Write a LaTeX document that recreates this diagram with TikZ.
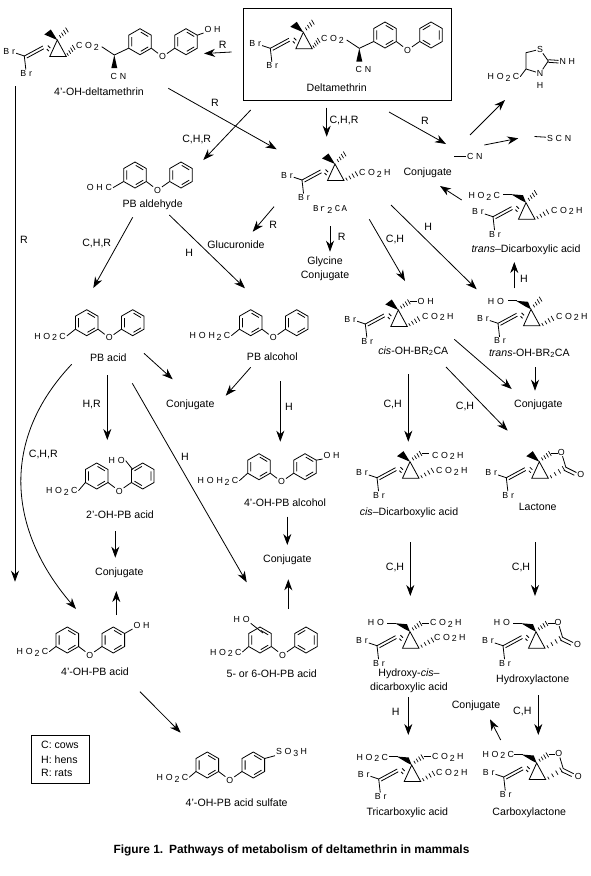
\documentclass[tikz,border=0pt]{standalone}
\usepackage{fontspec}
\usetikzlibrary{arrows.meta,calc}
\setmainfont{Liberation Sans}
\newfontfamily\chemfont[LetterSpace=32]{Liberation Sans}
\newfontfamily\acidfont[LetterSpace=15]{Liberation Mono}
\newcommand{\subtwo}[1]{\kern1.8pt\raisebox{-1.8pt}{#1}\kern2.4pt}
\newcommand{\hashbond}[4]{%
  \foreach \hashpos in {0.05,0.35,0.65,0.95}{
    \pgfmathsetmacro{\hashx}{#1+\hashpos*(#3-#1)}
    \pgfmathsetmacro{\hashy}{#2+\hashpos*(#4-#2)}
    \pgfmathsetmacro{\hashlen}{1.5+1.3*\hashpos}
    \draw[line width=0.7pt] ({\hashx-0.5*\hashlen},{\hashy-0.87*\hashlen}) -- ({\hashx+0.5*\hashlen},{\hashy+0.87*\hashlen});
  }%
}
\tikzset{
  atom/.style={font=\fontsize{8.8}{10}\chemfont,inner sep=0pt,outer sep=1pt,text height=6pt,text depth=0pt},
  cmpd/.style={font=\fontsize{10.6}{13.5}\selectfont,inner sep=0pt,align=center},
  pathway/.style={-{Stealth[length=11pt,width=8pt,inset=3.5pt]}},
  pics/benzene/.style={code={
    \draw (0,-13) -- (11.3,-6.5) -- (11.3,6.5) -- (0,13) -- (-11.3,6.5) -- (-11.3,-6.5) -- cycle;
    \draw[xscale=#1] (-8.2,-4.6) -- (-8.2,4.6) (0.8,-9.6) -- (8.2,-5.2) (0.8,9.6) -- (8.2,5.2);
  }},
  pics/benzene/.default=1,
  pics/phenoxy/.style={code={
    \pic at (0,0) {benzene};
    \pic at (46,0) {benzene=#1};
    \node[atom] (-o) at (22.5,15) {O};
    \draw (11.3,6.5) -- (-o);
    \draw (-o) -- (34.7,6.5);
  }},
  pics/phenoxy/.default=1,
  pics/cyanoester/.style={code={
    \draw (-38.3,5) -- (-25.7,13.3) -- (-11.3,6.5);
    \fill (-25.7,13.3) -- (-22.7,26.5) -- (-28.7,26.5) -- cycle;
    \node[atom] (-cn) at (-21.5,34.5) {CN};
  }},
  pics/cyclopropyl/.style={code={
    \draw (0,0) -- (-7.5,16.5) -- (9,16.5) -- cycle;
    \begin{scope}[shift={(0,#1)}]
      \draw (-33,14) -- (-14.5,4) (-30.5,16) -- (-13.5,6.8);
      \draw (-10.5,7) -- (-8.5,9) (-9.5,3.5) -- (-7,6);
      \node[atom] (-brl) at (-48,9) {Br};
      \node[atom] (-brd) at (-31,31.5) {Br};
      \draw (-brl) -- (-33,14) -- (-brd);
    \end{scope}
  }},
  pics/cyclopropyl/.default=0,
  pics/methylwedge/.style={code={
    \fill (0,0) -- (-13,-5.5) -- (-6.5,-10.5) -- cycle;
  }},
  pics/subwedge/.style={code={
    \draw (-23,-8.5) -- (-14,-8.5);
    \fill (-15,-8.5) -- (-3,-7.5) -- (0,0) -- (-5,-2.5) -- cycle;
  }},
  pics/methylhash/.style={code={
    \hashbond{2.5}{-3}{10}{-10.5}
  }},
  pics/subhash/.style={code={
    \hashbond{2.5}{-2.5}{11}{-8.5}
    \draw (12,-8.5) -- (19,-8.5);
  }},
  pics/lactone/.style={code={
    \hashbond{11}{15.5}{25}{6.5}
    \node[atom] (-oa) at (22,-9.5) {O};
    \node[atom] (-ob) at (41.5,13) {O};
    \draw (-oa) -- (26.5,5.5) -- (-ob);
    \draw (24.5,8.5) -- (35,13.5);
    \draw (12,-8.5) -- (18.5,-8.5);
    \hashbond{2.5}{-2.5}{11}{-8.5}
  }},
}
\begin{document}
\begin{tikzpicture}[x=1pt,y=-1pt,line width=0.8pt]
  \useasboundingbox (0,0) rectangle (590,876);

  \draw (243.3,8.3) rectangle (451.7,100);

  % Deltamethrin
  \pic (dm) at (303.3,32.3) {cyclopropyl=2};
  \pic at (303.3,32.3) {methylwedge};
  \pic at (303.3,32.3) {methylhash};
  \hashbond{313.3}{47}{319}{40}
  \node[atom,anchor=west] (dmco) at (320,38.5) {CO\subtwo{2}};
  \pic (dmr) at (385,35) {phenoxy=-1};
  \pic (dmc) at (385,35) {cyanoester};
  \node[cmpd] (dmname) at (336.7,88) {Deltamethrin};

  % 4'-OH-deltamethrin
  \pic (ohdm) at (57.3,40) {cyclopropyl=2};
  \pic at (57.3,40) {methylwedge};
  \pic at (57.3,40) {methylhash};
  \hashbond{67.3}{54.7}{74}{47}
  \node[atom,anchor=west] (ohdmco) at (75,45.5) {CO\subtwo{2}};
  \pic (ohdmr) at (140,41.7) {phenoxy};
  \pic (ohdmc) at (140,41.7) {cyanoester};
  \node[atom,anchor=west] (ohdmoh) at (203.5,29) {OH};
  \draw (197.3,35.2) -- (ohdmoh.south west);
  \node[cmpd] (ohdmname) at (99,92) {4'-OH-deltamethrin};

  % Br2CA
  \pic (bc) at (335,164) {cyclopropyl=2};
  \pic at (335,164) {methylwedge};
  \pic at (335,164) {methylhash};
  \hashbond{346}{179.5}{357}{173.5}
  \node[atom,anchor=west] (bcco) at (358,172.5) {CO\subtwo{2}H};
  \node[font=\fontsize{9}{10}\acidfont,inner sep=0pt] (bcname) at (330,209.3) {Br\subtwo{2}CA};

  % thiazolidine and cyanide side
  \node[atom] (ths) at (540,49.3) {S};
  \node[atom] (thn) at (540,73.3) {N};
  \node[atom] (thh) at (540,85) {H};
  \node[atom,anchor=west] (thnh) at (558.5,61.7) {NH};
  \coordinate (thc) at (548.3,61);
  \coordinate (thd) at (526,52.7);
  \coordinate (the) at (526,69);
  \draw (the) -- (thd) -- (ths) -- (thc) -- (thn) -- (the);
  \draw ($(thc)+(0,-1.3)$) -- ($(thnh.west)+(0,-1.3)$) ($(thc)+(0,1.3)$) -- ($(thnh.west)+(0,1.3)$);
  \node[atom,anchor=west] (thco) at (486.7,76.7) {HO\subtwo{2}C};
  \draw (thco.east) -- (the);
  \node[atom,anchor=west] (cnb) at (466,156) {CN};
  \coordinate (cna) at (454,156);
  \draw (cna) -- (cnb);
  \node[atom,anchor=west] (scnb) at (546,138) {SCN};
  \coordinate (scna) at (534.5,136.5);
  \draw (scna) -- (scnb);
  \node[cmpd] (conja) at (427.7,173) {Conjugate};

  % trans-dicarboxylic acid
  \pic (td) at (526,202.7) {cyclopropyl};
  \pic at (526,202.7) {subwedge};
  \pic at (526,202.7) {methylhash};
  \hashbond{537}{218}{548}{211.5}
  \node[atom,anchor=east] (tdco) at (501,195.7) {HO\subtwo{2}C};
  \node[atom,anchor=west] (tdcob) at (550,210) {CO\subtwo{2}H};
  \node[cmpd] (tdname) at (526,249.3) {\textit{trans}--Dicarboxylic acid};

  % cis- and trans-OH-Br2CA
  \pic (co) at (398.3,310) {cyclopropyl};
  \pic at (398.3,310) {methylwedge};
  \pic at (398.3,310) {subhash};
  \hashbond{409}{325}{419}{318.5}
  \node[atom,anchor=west] (cooh) at (416.7,301.5) {OH};
  \node[atom,anchor=west] (coco) at (421,316) {CO\subtwo{2}H};
  \node[cmpd] (coname) at (413.3,351) {\textit{cis}-OH-BR\textsubscript{2}CA};
  \pic (to) at (531,309.3) {cyclopropyl};
  \pic at (531,309.3) {subwedge};
  \pic at (531,309.3) {methylhash};
  \hashbond{542}{324.8}{553}{318}
  \node[atom,anchor=east] (tooh) at (505,301.5) {HO};
  \node[atom,anchor=west] (toco) at (555,316) {CO\subtwo{2}H};
  \node[cmpd] (toname) at (529.3,353.3) {\textit{trans}-OH-BR\textsubscript{2}CA};
  \node[cmpd] (conjb) at (538.3,404.3) {Conjugate};

  % cis-dicarboxylic acid and lactone
  \pic (cd) at (410,461.7) {cyclopropyl=2};
  \pic at (410,461.7) {methylwedge};
  \pic at (410,461.7) {subhash};
  \hashbond{421}{477}{433}{470}
  \node[atom,anchor=west] (cdco) at (431,455) {CO\subtwo{2}H};
  \node[atom,anchor=west] (cdcob) at (435,470.7) {CO\subtwo{2}H};
  \node[cmpd] (cdname) at (409,512.3) {\textit{cis}--Dicarboxylic acid};
  \pic (la) at (539.3,461.7) {cyclopropyl=2};
  \pic at (539.3,461.7) {methylwedge};
  \pic (lab) at (539.3,461.7) {lactone};
  \node[cmpd] (laname) at (537.7,507.3) {Lactone};

  % hydroxy compounds
  \pic (hc) at (410,631.7) {cyclopropyl};
  \pic at (410,631.7) {subwedge};
  \pic at (410,631.7) {subhash};
  \hashbond{421}{646.5}{433}{639.5}
  \node[atom,anchor=east] (hcoh) at (385,622.7) {HO};
  \node[atom,anchor=west] (hcco) at (429,622.7) {CO\subtwo{2}H};
  \node[atom,anchor=west] (hccob) at (433,637) {CO\subtwo{2}H};
  \node[cmpd] (hcname) at (409,680.5) {Hydroxy-\textit{cis}--\\dicarboxylic acid};
  \pic (hl) at (536,631.7) {cyclopropyl};
  \pic at (536,631.7) {subwedge};
  \pic (hlb) at (536,631.7) {lactone};
  \node[atom,anchor=east] (hloh) at (511,622.7) {HO};
  \node[cmpd] (hlname) at (532.7,680) {Hydroxylactone};

  % tricarboxylic acid and carboxylactone
  \pic (tc) at (411.7,765) {cyclopropyl};
  \pic at (411.7,765) {subwedge};
  \pic at (411.7,765) {subhash};
  \hashbond{422.7}{780}{434}{773}
  \node[atom,anchor=east] (tcco) at (389,757) {HO\subtwo{2}C};
  \node[atom,anchor=west] (tccoa) at (431,756.5) {CO\subtwo{2}H};
  \node[atom,anchor=west] (tccob) at (435,772) {CO\subtwo{2}H};
  \node[cmpd] (tcname) at (407.3,812.3) {Tricarboxylic acid};
  \pic (cl) at (536.7,763) {cyclopropyl};
  \pic at (536.7,763) {subwedge};
  \pic (clb) at (536.7,763) {lactone};
  \node[atom,anchor=east] (clco) at (515,754) {HO\subtwo{2}C};
  \node[cmpd] (clname) at (529.3,812.3) {Carboxylactone};
  \node[cmpd] (conjc) at (476,706) {Conjugate};

  % phenoxy compounds
  \pic (al) at (135,175) {phenoxy};
  \node[atom,anchor=east] (alco) at (113,187.7) {OHC};
  \draw (alco.east) -- (123.7,181.5);
  \node[cmpd] (alname) at (152.7,205) {PB aldehyde};

  \pic (ac) at (86.7,322.7) {phenoxy};
  \node[atom,anchor=west] (acco) at (33.3,336) {HO\subtwo{2}C};
  \draw (acco.east) -- (75.4,329.2);
  \node[cmpd] (acname) at (108.3,357.3) {PB acid};

  \pic (ol) at (250.7,322.7) {phenoxy};
  \node[atom,anchor=west] (olco) at (188.7,335.7) {HOH\subtwo{2}C};
  \draw (olco.east) -- (239.4,329.2);
  \node[cmpd] (olname) at (272.3,356.3) {PB alcohol};
  \node[cmpd] (conjd) at (190.3,405) {Conjugate};

  \pic (oh) at (259,466.7) {phenoxy};
  \node[atom,anchor=west] (ohco) at (196.7,480.7) {HOH\subtwo{2}C};
  \draw (ohco.east) -- (247.7,473.2);
  \node[atom,anchor=west] (ohoh) at (322.5,455) {OH};
  \draw (316.3,460.2) -- (ohoh.south west);
  \node[cmpd] (ohname) at (285,502.3) {4'-OH-PB alcohol};

  \pic (ho) at (96.7,476) {phenoxy=-1};
  \node[atom,anchor=west] (hoco) at (45,490.7) {HO\subtwo{2}C};
  \draw (hoco.east) -- (85.4,482.5);
  \node[atom] (hooh) at (116.7,460.7) {HO};
  \draw (hooh.east) -- (132.7,469.5);
  \node[cmpd] (honame) at (120,514.3) {2'-OH-PB acid};
  \node[cmpd] (conje) at (119.3,572.3) {Conjugate};
  \node[cmpd] (conjf) at (287.3,559.3) {Conjugate};

  \pic (pa) at (67.3,640) {phenoxy};
  \node[atom,anchor=west] (paco) at (15.7,651.7) {HO\subtwo{2}C};
  \draw (paco.east) -- (56,646.5);
  \node[atom,anchor=west] (paoh) at (132.5,625) {OH};
  \draw (124.6,633.5) -- (paoh.south west);
  \node[cmpd] (paname) at (95,671.3) {4'-OH-PB acid};

  \pic (fs) at (260,640) {phenoxy=-1};
  \node[atom,anchor=west] (fsco) at (209,652) {HO\subtwo{2}C};
  \draw (fsco.east) -- (248.7,646.5);
  \node[atom] (fsoh) at (241.7,619.3) {HO};
  \draw (fsoh.south east) -- (263,633);
  \node[cmpd] (fsname) at (271.7,674) {5- or 6-OH-PB acid};

  \pic (su) at (207.3,765) {phenoxy};
  \node[atom,anchor=west] (suco) at (155.7,777.3) {HO\subtwo{2}C};
  \draw (suco.east) -- (196,771.5);
  \node[atom,anchor=west] (suso) at (275,751.7) {SO\subtwo{3}H};
  \draw (264.6,758.5) -- (suso.south west);
  \node[cmpd] (suname) at (236.7,803) {4'-OH-PB acid sulfate};

  % glucuronide and glycine
  \node[cmpd] (glu) at (236,244.3) {Glucuronide};
  \node[cmpd] (gly) at (325,269) {Glycine\\Conjugate};

  % pathways
  \coordinate (da) at (231.7,52);
  \coordinate (db) at (204,53.5);
  \draw[pathway] (da) -- (db);
  \node[cmpd] (dl) at (222.7,45) {R};
  \coordinate (ea) at (168.3,88.3);
  \coordinate (eb) at (276.7,149.3);
  \draw[pathway] (ea) -- (eb);
  \node[cmpd] (el) at (215,103.3) {R};
  \coordinate (fa) at (250.7,110);
  \coordinate (fb) at (203.3,160);
  \draw[pathway] (fa) -- (fb);
  \node[cmpd] (fl) at (196.7,139) {C,H,R};
  \coordinate (ga) at (15,86);
  \coordinate (gb) at (15,581.7);
  \draw[pathway] (ga) -- (gb);
  \node[cmpd] (gl) at (24,240) {R};
  \coordinate (ha) at (326.7,107.7);
  \coordinate (hb) at (326.7,136.7);
  \draw[pathway] (ha) -- (hb);
  \node[cmpd] (hl) at (344,120) {C,H,R};
  \coordinate (ia) at (389,112);
  \coordinate (ib) at (446,144);
  \draw[pathway] (ia) -- (ib);
  \node[cmpd] (il) at (425,121) {R};
  \coordinate (ja) at (470,135);
  \coordinate (jb) at (505,100);
  \draw[pathway] (ja) -- (jb);
  \coordinate (ka) at (484.3,145);
  \coordinate (kb) at (518.3,138.3);
  \draw[pathway] (ka) -- (kb);
  \coordinate (la) at (461.7,200);
  \coordinate (lb) at (440,186);
  \draw[pathway] (la) -- (lb);
  \coordinate (ma) at (274,206.7);
  \coordinate (mb) at (252.7,231.7);
  \draw[pathway] (ma) -- (mb);
  \node[cmpd] (ml) at (273.3,225) {R};
  \coordinate (na) at (330,226);
  \coordinate (nb) at (330,251.7);
  \draw[pathway] (na) -- (nb);
  \node[cmpd] (nl) at (341.7,236.7) {R};
  \coordinate (oa) at (369.3,219.3);
  \coordinate (ob) at (405,281);
  \draw[pathway] (oa) -- (ob);
  \node[cmpd] (ol) at (395,239.3) {C,H};
  \coordinate (pa) at (391,205);
  \coordinate (pb) at (476.7,289.3);
  \draw[pathway] (pa) -- (pb);
  \node[cmpd] (pl) at (428.3,227.3) {H};
  \coordinate (qa) at (514.3,288.3);
  \coordinate (qb) at (514.3,262);
  \draw[pathway] (qa) -- (qb);
  \node[cmpd] (ql) at (524,279) {H};
  \coordinate (ra) at (454.3,339.3);
  \coordinate (rb) at (511.7,389);
  \draw[pathway] (ra) -- (rb);
  \coordinate (sa) at (535,367.3);
  \coordinate (sb) at (535,390.7);
  \draw[pathway] (sa) -- (sb);
  \coordinate (ta) at (408.3,374);
  \coordinate (tb) at (408.3,441.7);
  \draw[pathway] (ta) -- (tb);
  \node[cmpd] (tl) at (392.7,404.3) {C,H};
  \coordinate (ua) at (446,367);
  \coordinate (ub) at (507.7,430.7);
  \draw[pathway] (ua) -- (ub);
  \node[cmpd] (ul) at (465,406) {C,H};
  \coordinate (va) at (410.3,542.3);
  \coordinate (vb) at (410.3,596);
  \draw[pathway] (va) -- (vb);
  \node[cmpd] (vl) at (395,567) {C,H};
  \coordinate (wa) at (535,542.3);
  \coordinate (wb) at (535,596);
  \draw[pathway] (wa) -- (wb);
  \node[cmpd] (wl) at (521,567) {C,H};
  \coordinate (xa) at (408.3,697.3);
  \coordinate (xb) at (408.3,735);
  \draw[pathway] (xa) -- (xb);
  \node[cmpd] (xl) at (395.7,712.3) {H};
  \coordinate (ya) at (538.3,695);
  \coordinate (yb) at (538.3,735);
  \draw[pathway] (ya) -- (yb);
  \node[cmpd] (yl) at (522.3,711.7) {C,H};
  \coordinate (za) at (500.7,740);
  \coordinate (zb) at (490,719.3);
  \draw[pathway] (za) -- (zb);
  \coordinate (aaa) at (132.7,217.3);
  \coordinate (aab) at (93.3,288);
  \draw[pathway] (aaa) -- (aab);
  \node[cmpd] (aal) at (96.7,243.3) {C,H,R};
  \coordinate (aba) at (169.3,215);
  \coordinate (abb) at (245,288.3);
  \draw[pathway] (aba) -- (abb);
  \node[cmpd] (abl) at (189.3,252.7) {H};
  \coordinate (aca) at (250.7,367.3);
  \coordinate (acb) at (225.7,395.7);
  \draw[pathway] (aca) -- (acb);
  \coordinate (ada) at (144,353.3);
  \coordinate (adb) at (172.7,379.3);
  \draw[pathway] (ada) -- (adb);
  \coordinate (aea) at (280.3,381);
  \coordinate (aeb) at (280.3,441.7);
  \draw[pathway] (aea) -- (aeb);
  \node[cmpd] (ael) at (289,406.7) {H};
  \coordinate (afa) at (107.3,375);
  \coordinate (afb) at (107.3,440);
  \draw[pathway] (afa) -- (afb);
  \node[cmpd] (afl) at (91.7,405) {H,R};
  \coordinate (aga) at (132.3,383.3);
  \coordinate (agb) at (246.7,582.3);
  \draw[pathway] (aga) -- (agb);
  \node[cmpd] (agl) at (185,456.7) {H};
  \coordinate (aha) at (71.7,364.3);
  \coordinate (ahb) at (76,609);
  \draw[pathway] (aha) .. controls (0,440) and (8,530) .. (ahb);
  \node[cmpd] (ahl) at (43.3,454) {C,H,R};
  \coordinate (aia) at (115.3,531);
  \coordinate (aib) at (115.3,557.7);
  \draw[pathway] (aia) -- (aib);
  \coordinate (aja) at (116.3,615);
  \coordinate (ajb) at (116.3,591);
  \draw[pathway] (aja) -- (ajb);
  \coordinate (aka) at (287.3,516.7);
  \coordinate (akb) at (287.3,545);
  \draw[pathway] (aka) -- (akb);
  \coordinate (ala) at (288.3,609);
  \coordinate (alb) at (288.3,579.3);
  \draw[pathway] (ala) -- (alb);
  \coordinate (ama) at (140,691.7);
  \coordinate (amb) at (180.7,732.7);
  \draw[pathway] (ama) -- (amb);

  % legend and caption
  \draw (31.3,735.3) rectangle (89.3,783.3);
  \node[cmpd,anchor=west] (lega) at (40.7,745.3) {C: cows};
  \node[cmpd,anchor=west] (legb) at (40.7,759.3) {H: hens};
  \node[cmpd,anchor=west] (legc) at (40.7,773.3) {R: rats};
  \node[cmpd,font=\fontsize{11.9}{14}\bfseries] (figcap) at (291.5,850) {Figure 1.\enspace Pathways of metabolism of deltamethrin in mammals};
\end{tikzpicture}
\end{document}
